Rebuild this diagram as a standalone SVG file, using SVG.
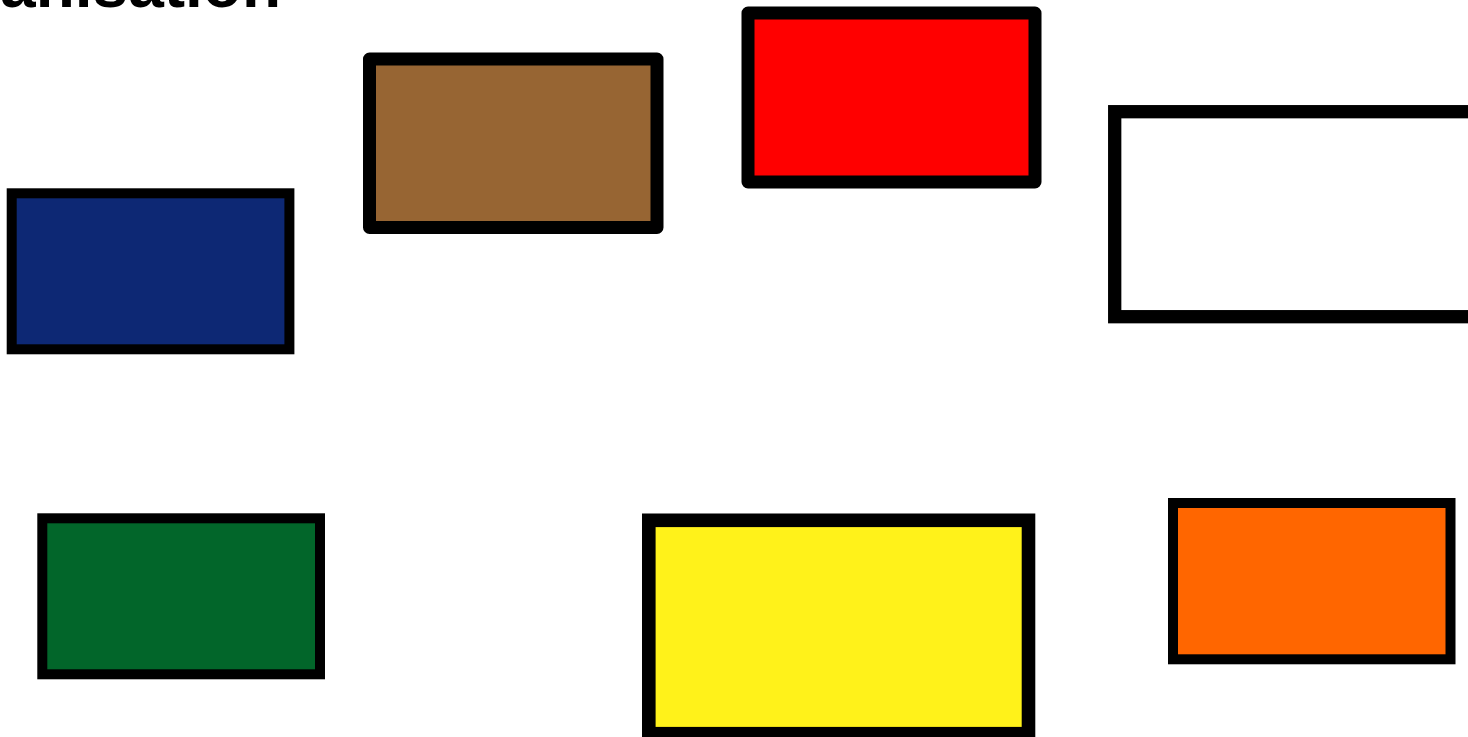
<svg xmlns="http://www.w3.org/2000/svg" width="1468" height="737" viewBox="0 0 1468 737">
<style>
.box{stroke:#000;}
.title{font-family:"Liberation Sans",Arial,sans-serif;font-weight:bold;font-size:64px;fill:#000;}
</style>
<rect width="1468" height="737" fill="#fff"/>
<text class="title" x="281" y="6.5" text-anchor="end">Organisation</text>
<g id="node-navy"><rect class="box" x="11.7" y="193.3" width="277.7" height="156" fill="#0d2874" stroke-width="10"/></g>
<g id="node-brown"><rect class="box" x="369.5" y="59" width="287.5" height="168.5" fill="#976533" stroke-width="13" stroke-linejoin="round"/></g>
<g id="node-red"><rect class="box" x="748" y="13" width="287" height="169" fill="#ff0000" stroke-width="13" stroke-linejoin="round"/></g>
<g id="node-white"><rect class="box" x="1114.7" y="111.7" width="400" height="205" fill="#fff" stroke-width="13.3"/></g>
<g id="node-green"><rect class="box" x="42.3" y="518.3" width="277.7" height="156" fill="#02662a" stroke-width="10"/></g>
<g id="node-yellow"><rect class="box" x="648.8" y="520.3" width="379.7" height="213.4" fill="#fff21a" stroke-width="13.6"/></g>
<g id="node-orange"><rect class="box" x="1173" y="503" width="277.5" height="156.3" fill="#ff6600" stroke-width="10"/></g>
<g id="connectors"></g>
</svg>
